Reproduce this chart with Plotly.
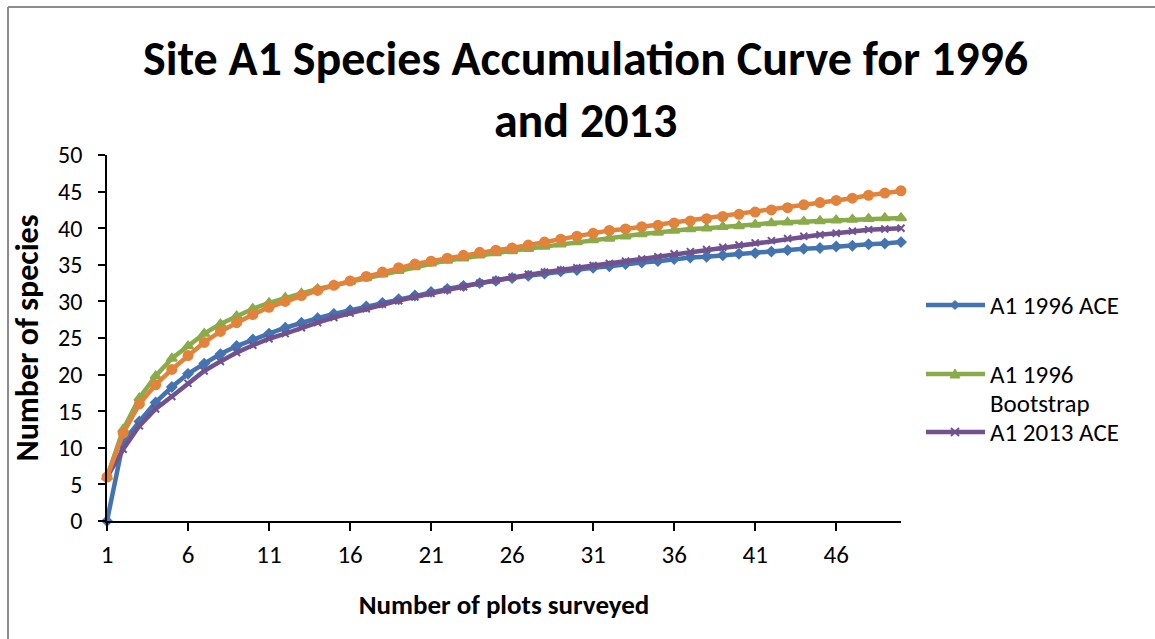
import plotly.graph_objects as go

# Number of plots surveyed (x categories)
plots = list(range(1, 51))

# Species accumulation estimates per series
ace_1996 = [0, 10.8, 13.6, 16.2, 18.3, 20.1, 21.5, 22.8, 23.9, 24.8,
            25.6, 26.4, 27.1, 27.7, 28.3, 28.8, 29.3, 29.8, 30.3, 30.8,
            31.3, 31.7, 32.1, 32.5, 32.8, 33.2, 33.5, 33.8, 34.1, 34.3,
            34.6, 34.8, 35.1, 35.3, 35.5, 35.8, 36.0, 36.1, 36.3, 36.5,
            36.6, 36.8, 37.0, 37.2, 37.3, 37.5, 37.6, 37.8, 37.9, 38.1]

bootstrap_1996 = [6.0, 12.5, 16.8, 19.8, 22.2, 23.9, 25.6, 26.9, 28.0, 29.0,
                  29.8, 30.5, 31.1, 31.7, 32.2, 32.7, 33.2, 33.7, 34.2, 34.7,
                  35.2, 35.6, 35.9, 36.3, 36.6, 36.9, 37.2, 37.5, 37.8, 38.1,
                  38.4, 38.6, 38.9, 39.2, 39.4, 39.7, 39.9, 40.0, 40.2, 40.3,
                  40.5, 40.7, 40.8, 40.9, 41.0, 41.1, 41.2, 41.3, 41.4, 41.4]

ace_2013 = [6.0, 9.8, 13.0, 15.3, 17.0, 18.8, 20.5, 21.8, 23.0, 24.0,
            24.9, 25.6, 26.4, 27.1, 27.8, 28.4, 29.0, 29.6, 30.1, 30.6,
            31.1, 31.6, 32.0, 32.5, 32.9, 33.3, 33.7, 34.0, 34.3, 34.6,
            34.9, 35.2, 35.5, 35.8, 36.1, 36.5, 36.8, 37.1, 37.4, 37.7,
            38.0, 38.3, 38.6, 38.9, 39.1, 39.3, 39.6, 39.8, 39.9, 40.0]

bootstrap_2013 = [6.0, 12.0, 16.0, 18.6, 20.7, 22.6, 24.4, 25.9, 27.1, 28.2,
                  29.2, 30.0, 30.8, 31.5, 32.2, 32.8, 33.4, 34.0, 34.6, 35.1,
                  35.5, 35.9, 36.3, 36.7, 37.0, 37.3, 37.7, 38.1, 38.5, 38.9,
                  39.3, 39.7, 39.9, 40.2, 40.4, 40.7, 41.0, 41.3, 41.6, 41.9,
                  42.2, 42.5, 42.8, 43.2, 43.5, 43.8, 44.1, 44.5, 44.8, 45.1]

x_tick_vals = [1, 6, 11, 16, 21, 26, 31, 36, 41, 46]
y_tick_vals = [0, 5, 10, 15, 20, 25, 30, 35, 40, 45, 50]

FONT = "Carlito, Lato, sans-serif"
W, H = 1155, 639
ML, MR, MT, MB = 107, 254, 155, 118
PW, PH = W - ML - MR, H - MT - MB


def px(xp):
    """Pixel x -> paper x."""
    return (xp - ML) / PW


def py(yp):
    """Pixel y -> paper y."""
    return (H - MB - yp) / PH


fig = go.Figure()

series = [
    ("A1 1996 ACE", ace_1996, "#4474b0", "diamond", 7),
    ("A1 1996 Bootstrap", bootstrap_1996, "#8aab4a", "triangle-up", 9),
    ("A1 2013 ACE", ace_2013, "#71528f", "x-thin", 7),
    ("A1 2013 Bootstrap", bootstrap_2013, "#e2833c", "circle", 9),
]

for name, vals, color, symbol, msize in series:
    fig.add_trace(go.Scatter(
        x=plots, y=vals, name=name, mode="lines+markers",
        line=dict(color=color, width=4.5),
        marker=dict(symbol=symbol, size=msize, color=color,
                    line=dict(color=color, width=2)),
        showlegend=False, cliponaxis=False,
    ))

# Thin grey frame along the top and left of the chart area
frame = dict(type="line", xref="paper", yref="paper",
             line=dict(color="#8c8c8c", width=2))
fig.add_shape(**frame, x0=px(8), x1=px(1160), y0=py(7), y1=py(7))
fig.add_shape(**frame, x0=px(8), x1=px(8), y0=py(7), y1=py(645))

# Legend: sample line + marker glyph + label for the first three series
LEG_FONT = 25
legend_rows = [
    (305, "A1 1996 ACE", series[0][2], "diamond"),
    (374, "A1 1996", series[1][2], "triangle"),
    (432, "A1 2013 ACE", series[2][2], "x"),
]
for yrow, label, color, glyph in legend_rows:
    fig.add_shape(type="line", xref="paper", yref="paper",
                  x0=px(926), x1=px(985), y0=py(yrow), y1=py(yrow),
                  line=dict(color=color, width=4.5))
    cx = 955
    if glyph == "diamond":
        d = 4.5
        path = (f"M {px(cx)},{py(yrow - d)} L {px(cx + d)},{py(yrow)} "
                f"L {px(cx)},{py(yrow + d)} L {px(cx - d)},{py(yrow)} Z")
        fig.add_shape(type="path", xref="paper", yref="paper", path=path,
                      fillcolor=color, line=dict(color=color, width=1))
    elif glyph == "triangle":
        d = 5
        path = (f"M {px(cx)},{py(yrow - d)} L {px(cx + d)},{py(yrow + d - 1)} "
                f"L {px(cx - d)},{py(yrow + d - 1)} Z")
        fig.add_shape(type="path", xref="paper", yref="paper", path=path,
                      fillcolor=color, line=dict(color=color, width=1))
    else:
        d = 4
        for s in (1, -1):
            fig.add_shape(type="line", xref="paper", yref="paper",
                          x0=px(cx - d), x1=px(cx + d),
                          y0=py(yrow - s * d), y1=py(yrow + s * d),
                          line=dict(color=color, width=2))
    fig.add_annotation(xref="paper", yref="paper", x=px(989), y=py(yrow),
                       xanchor="left", yanchor="middle", showarrow=False,
                       text=label, font=dict(size=LEG_FONT, family=FONT),
                       borderpad=0)

fig.add_annotation(xref="paper", yref="paper", x=px(989), y=py(403),
                   xanchor="left", yanchor="middle", showarrow=False,
                   text="Bootstrap", font=dict(size=LEG_FONT, family=FONT),
                   borderpad=0)

fig.update_layout(
    width=W, height=H,
    margin=dict(l=ML, r=MR, t=MT, b=MB),
    paper_bgcolor="white", plot_bgcolor="white",
    font=dict(family=FONT, color="black", size=24),
    title=dict(
        text="<b>Site A1 Species Accumulation Curve for 1996<br>and 2013</b>",
        x=0.507, xanchor="center", y=1 - 75 / H, yanchor="middle",
        font=dict(size=48, family=FONT, color="black"),
    ),
    showlegend=False,
)

fig.update_xaxes(
    range=[1, 50], tickmode="array", tickvals=x_tick_vals,
    ticktext=[str(v) for v in x_tick_vals],
    ticks="outside", ticklen=8, tickwidth=1.5, tickcolor="black",
    showline=True, linecolor="black", linewidth=1.5,
    showgrid=False, zeroline=False,
    tickfont_size=25, tickfont_family=FONT, ticklabelstandoff=2,
    title_text="<b>Number of plots surveyed</b>",
    title_font_size=27, title_standoff=26,
)
fig.update_yaxes(
    range=[0, 50], tickmode="array", tickvals=y_tick_vals,
    ticktext=[str(v) for v in y_tick_vals],
    ticks="outside", ticklen=7, tickwidth=1.5, tickcolor="black",
    showline=True, linecolor="black", linewidth=1.5,
    showgrid=False, zeroline=False,
    tickfont_size=24, tickfont_family=FONT, ticklabelstandoff=11,
    title_text="<b>Number of species</b>",
    title_font_size=32, title_standoff=10,
)

fig.write_html("out.html")
